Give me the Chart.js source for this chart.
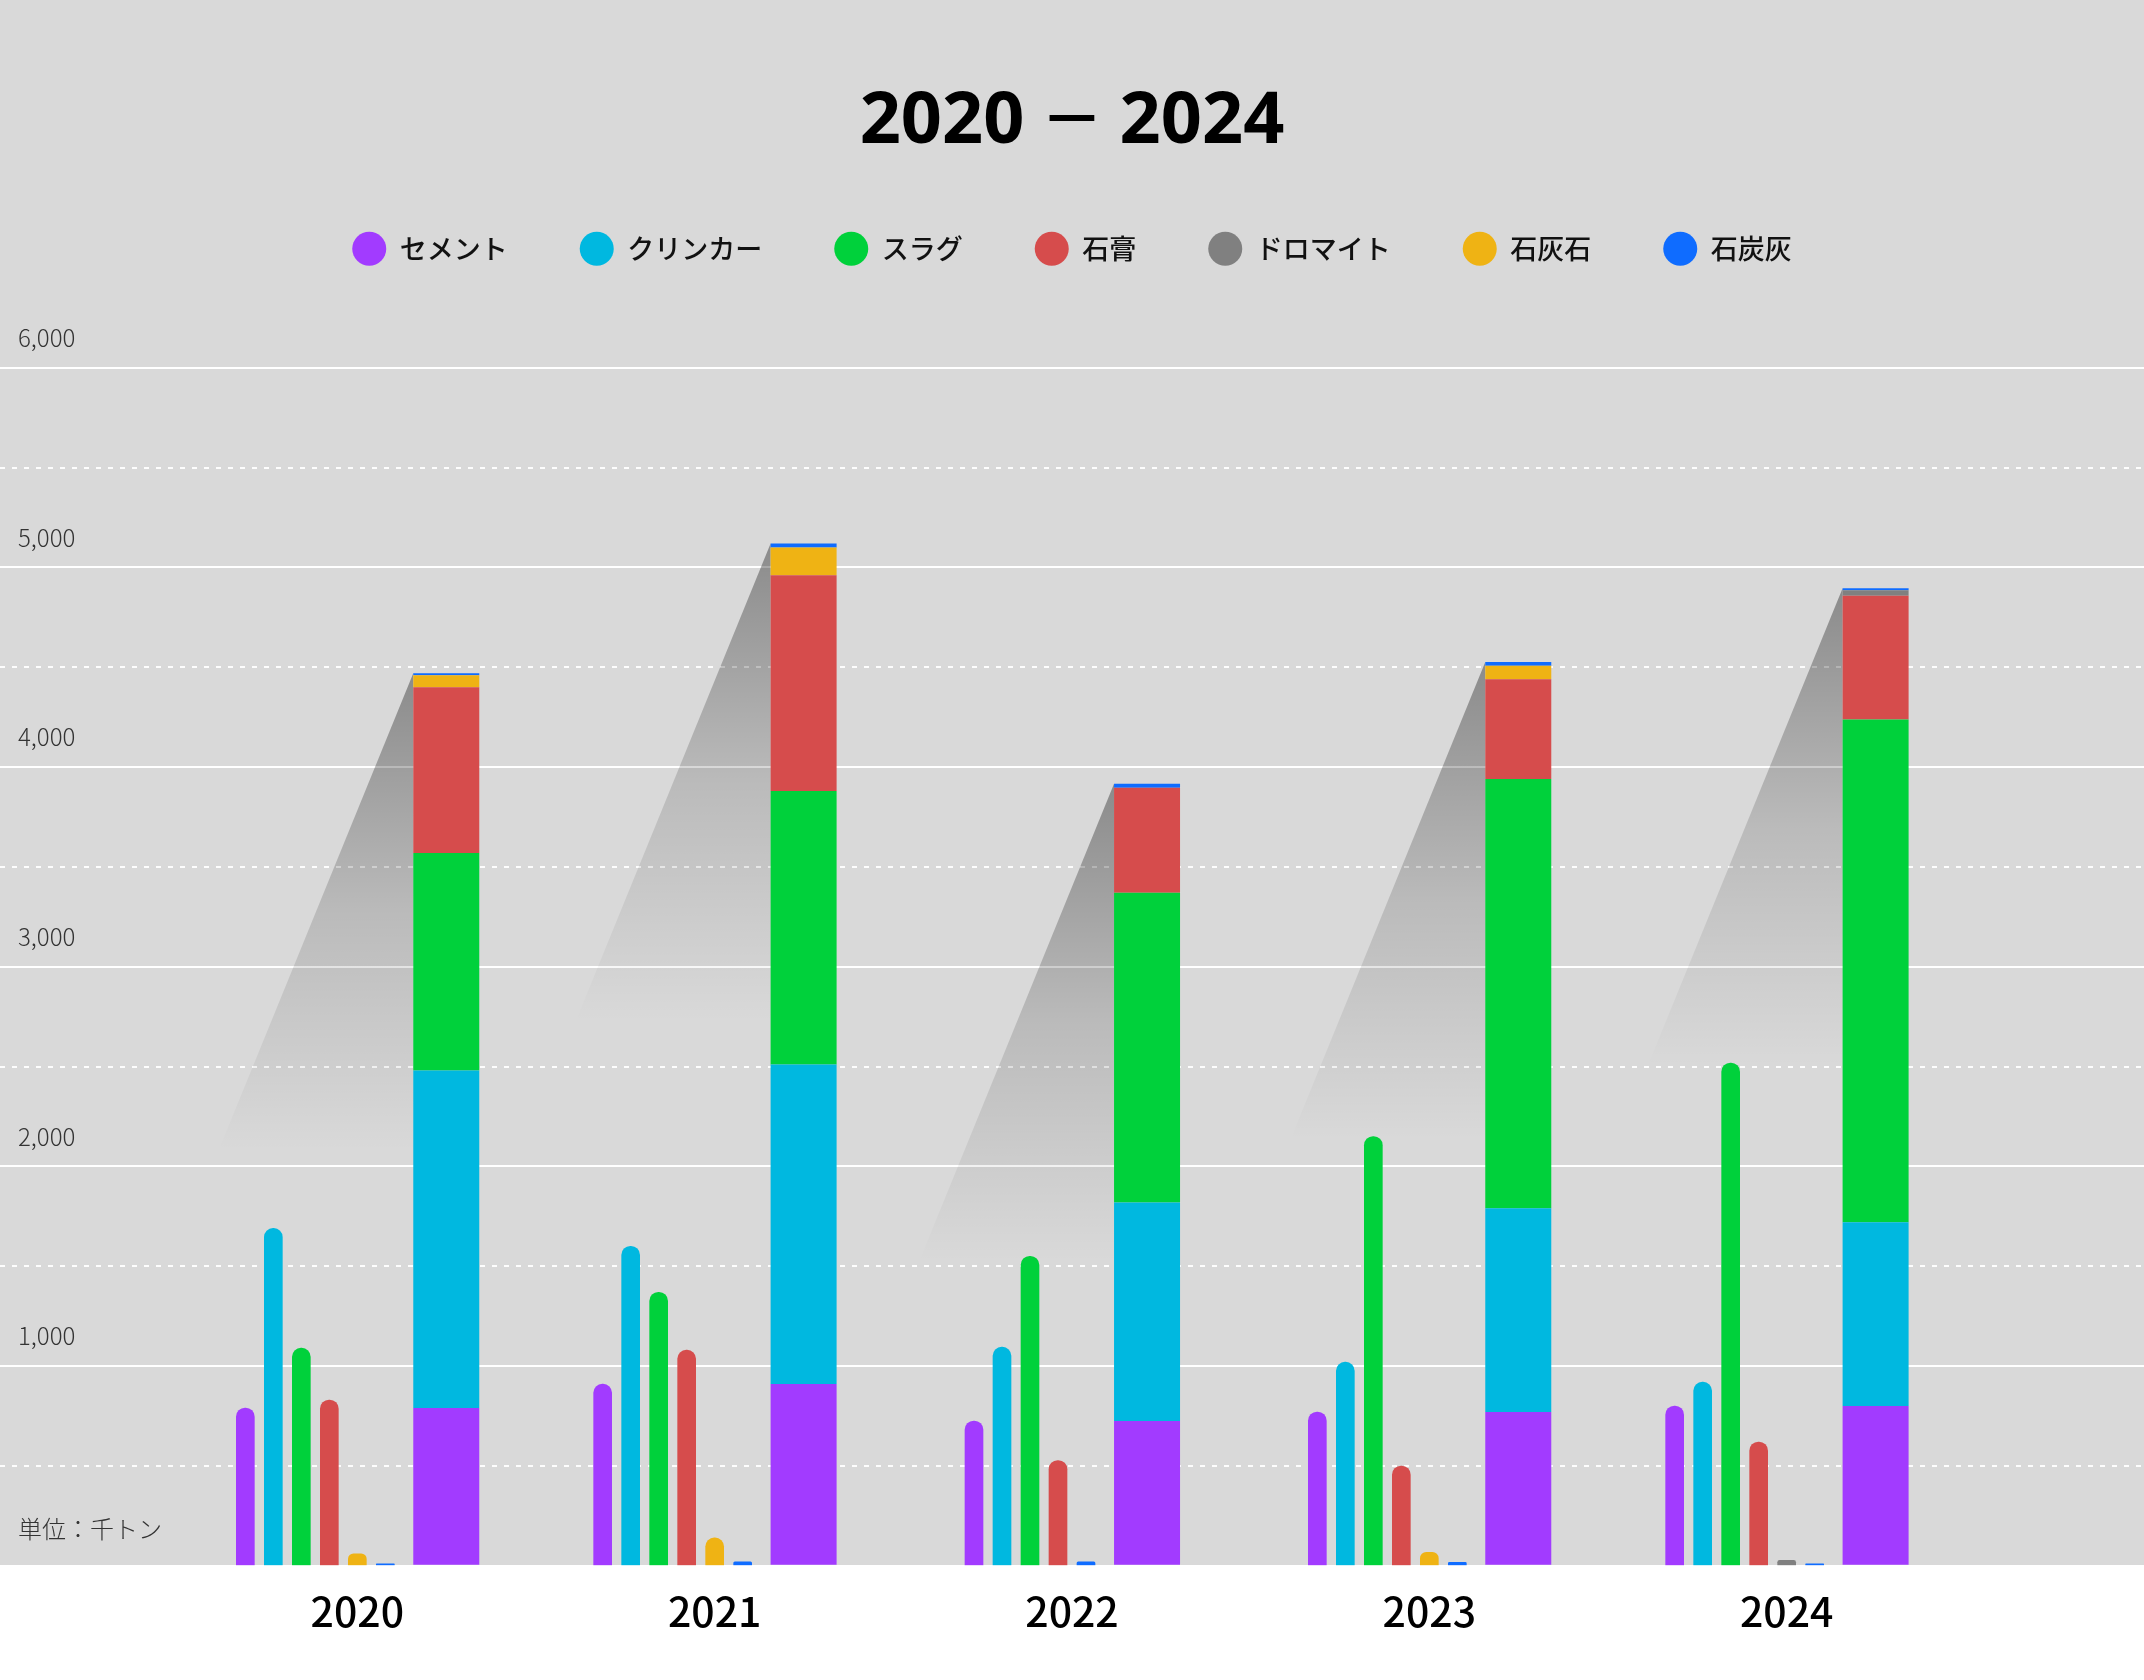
<!DOCTYPE html>
<html lang="ja">
<head>
<meta charset="utf-8">
<title>2020 ─ 2024</title>
<script src="https://cdn.jsdelivr.net/npm/chart.js@4.4.1/dist/chart.umd.min.js"></script>
<style>
html, body { margin: 0; padding: 0; background: #ffffff; }
canvas { display: block; }
</style>
</head>
<body>
<canvas id="chart" width="2144" height="1680"></canvas>
<script>
// ---- data (thousand tonnes) ----
const years = ['2020', '2021', '2022', '2023', '2024'];
const seriesNames = ['セメント', 'クリンカー', 'スラグ', '石膏', 'ドロマイト', '石灰石', '石炭灰'];
const cement    = [790, 910, 725, 770, 800];
const clinker   = [1690, 1600, 1095, 1020, 920];
const slag      = [1090, 1370, 1550, 2150, 2518];
const gypsum    = [830, 1080, 527, 500, 620];
const dolomite  = [null, null, null, null, 28];
const limestone = [60, 140, null, 68, null];
const coalAsh   = [10, 20, 20, 18, 10];
const yTickStep = 1000;
const yMax = 6000;
const titleText = '2020 \u200A─\u200A 2024';
const unitText = '単位：千トン';
const seriesColors = ['#A23BFF', '#00B8E0', '#00D13B', '#D64C4C', '#808080', '#EFB314', '#0F6CFF'];

// ---- build chart table ----
const FONT = '"Noto Sans CJK JP", "Noto Sans", sans-serif';
Chart.defaults.font.family = FONT;

const seriesValues = [cement, clinker, slag, gypsum, dolomite, limestone, coalAsh];
const pad = arr => [null, ...arr, null];
const labels = ['', ...years, ''];
const zeros = pad(years.map(() => 0));

const datasets = [];
// individual bars (one slot each, empty values skipped)
seriesValues.forEach((vals, i) => datasets.push({
  label: seriesNames[i], data: pad(vals), backgroundColor: seriesColors[i],
  stack: 'single' + i, barThickness: 28, maxBarThickness: 18,
  borderRadius: 9, borderSkipped: 'start', borderWidth: 0, skipNull: true
}));
// stacked total bar
seriesValues.forEach((vals, i) => datasets.push({
  label: seriesNames[i] + '（合計）', data: pad(vals), backgroundColor: seriesColors[i],
  stack: 'total', categoryPercentage: 1.12, barPercentage: 2, maxBarThickness: 66,
  borderWidth: 0, skipNull: true, isTotal: true
}));
// two empty slots closing each year group
for (let k = 0; k < 2; k++) datasets.push({
  label: '_gap' + k, data: zeros, backgroundColor: 'rgba(0,0,0,0)',
  stack: 'gap' + k, barThickness: 28, maxBarThickness: 18, skipNull: true
});

// ---- plugins ----
const bgPlugin = {
  id: 'bgFill',
  beforeDraw(chart) {
    const { ctx, width, height, chartArea } = chart;
    ctx.save();
    ctx.fillStyle = '#ffffff';
    ctx.fillRect(0, 0, width, height);
    ctx.fillStyle = '#d9d9d9';
    ctx.fillRect(0, 0, width, chartArea.bottom);
    ctx.restore();
  }
};

const shadowPlugin = {
  id: 'totalShadow',
  beforeDatasetsDraw(chart) {
    const { ctx } = chart;
    const totalIdx = chart.data.datasets.map((d, i) => d.isTotal ? i : -1).filter(i => i >= 0);
    years.forEach((yr, j) => {
      const idx = j + 1;
      let top = null;
      for (const di of totalIdx) {
        const v = chart.data.datasets[di].data[idx];
        const el = chart.getDatasetMeta(di).data[idx];
        if (el && v !== null && v !== undefined) top = el;
      }
      if (!top) return;
      const ax = top.x - top.width / 2;
      const ay = top.y;
      const dx = 195, dy = 478;
      const g = ctx.createLinearGradient(0, ay, 0, ay + dy);
      g.addColorStop(0, 'rgba(0,0,0,0.36)');
      g.addColorStop(0.5, 'rgba(0,0,0,0.14)');
      g.addColorStop(1, 'rgba(0,0,0,0)');
      ctx.save();
      ctx.beginPath();
      ctx.moveTo(ax, ay);
      ctx.lineTo(ax - dx, ay + dy);
      ctx.lineTo(ax, ay + dy);
      ctx.closePath();
      ctx.fillStyle = g;
      ctx.fill();
      ctx.restore();
    });
  }
};

const unitPlugin = {
  id: 'unitLabel',
  afterDraw(chart) {
    const { ctx, chartArea } = chart;
    ctx.save();
    ctx.font = '300 24px ' + FONT;
    ctx.fillStyle = '#333333';
    ctx.textAlign = 'left';
    ctx.textBaseline = 'middle';
    ctx.fillText(unitText, chartArea.left + 18, chartArea.bottom - 37);
    ctx.restore();
  }
};

const zeroWidth = (scale) => { scale.width = 0; };

new Chart(document.getElementById('chart'), {
  type: 'bar',
  data: { labels, datasets },
  plugins: [bgPlugin, shadowPlugin, unitPlugin],
  options: {
    responsive: false,
    devicePixelRatio: 1,
    animation: false,
    layout: { padding: { top: 0, bottom: 44, left: 0, right: 0 } },
    plugins: {
      title: {
        display: true, text: titleText, color: '#000000',
        font: { family: '"Noto Sans", "DejaVu Sans", "Noto Sans CJK JP", sans-serif', size: 72, weight: 'bold', lineHeight: 1.1 },
        padding: { top: 83, bottom: 1 }
      },
      subtitle: {
        display: true, text: '', weight: 500,
        font: { size: 2, lineHeight: 1 }, padding: { top: 0, bottom: 93.5 }
      },
      legend: {
        display: true, position: 'top',
        labels: {
          usePointStyle: true, pointStyle: 'circle', pointStyleWidth: 34, boxHeight: 24,
          padding: 72, color: '#111111', font: { size: 27, weight: '500' },
          filter: (item) => item.datasetIndex < seriesNames.length
        }
      },
      tooltip: { enabled: false }
    },
    scales: {
      x: {
        type: 'category', offset: false,
        grid: { display: true, drawOnChartArea: false, color: 'rgba(0,0,0,0)', drawTicks: true, tickLength: 21, tickColor: 'rgba(0,0,0,0)' },
        border: { display: false },
        ticks: { padding: 0, autoSkip: false, maxRotation: 0, color: '#000000', font: { size: 41, weight: '500' } }
      },
      y: {
        position: 'left', stacked: true, min: 0, max: yMax, afterFit: zeroWidth,
        grid: { color: '#ffffff', lineWidth: 2, drawTicks: false },
        border: { display: false },
        ticks: {
          stepSize: yTickStep, mirror: true, padding: 18, labelOffset: -30,
          color: '#333333', font: { size: 24, weight: '300' },
          callback: v => v === 0 ? '' : Number(v).toLocaleString('en-US')
        }
      },
      y2: {
        position: 'left', min: 0, max: yMax, afterFit: zeroWidth,
        grid: {
          color: c => (c.tick && c.tick.value % yTickStep === yTickStep / 2) ? 'rgba(255,255,255,0.95)' : 'rgba(0,0,0,0)',
          lineWidth: 2, drawTicks: false
        },
        border: { display: false, dash: [5, 7] },
        ticks: { display: false, stepSize: yTickStep / 2 }
      }
    }
  }
});
</script>
</body>
</html>
